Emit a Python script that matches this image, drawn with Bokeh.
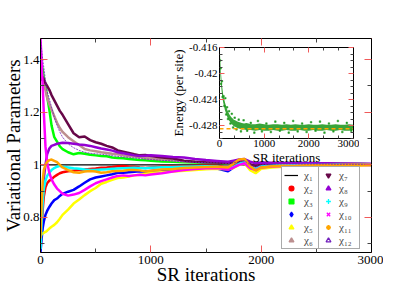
import math
from bokeh.plotting import figure
from bokeh.models import (Range1d, FixedTicker, LinearAxis, Legend, LegendItem,
                          GridBox, CustomJSTickFormatter)
from bokeh.embed import file_html
from bokeh.resources import INLINE

# ---------------- data ----------------
xs = [0, 10, 20, 30, 45, 60, 80, 100, 125, 150,
      175, 200, 250, 300, 350, 400, 450, 500, 550, 600,
      650, 700, 750, 800, 850, 900, 950, 1000, 1100, 1200,
      1300, 1400, 1500, 1600, 1700, 1750, 1800, 1850, 1900, 1950,
      2000, 2100, 2200, 2300, 2400, 2500, 2600, 2700, 2800, 2900, 3000]

x_ref = [0, 3000]
chi1 = [1.0, 1.0]
chi2 = [0.68, 0.76, 0.83, 0.88, 0.915, 0.93, 0.94, 0.945, 0.955, 0.962,
        0.968, 0.972, 0.976, 0.978, 0.98, 0.982, 0.984, 0.986, 0.989, 0.99,
        0.992, 0.995, 0.996, 0.994, 0.993, 0.99, 0.988, 0.99, 0.993, 0.995,
        0.994, 0.996, 0.997, 0.996, 0.988, 0.995, 1.005, 1.012, 0.99, 0.982,
        0.992, 0.996, 0.998, 0.997, 0.999, 0.998, 0.999, 1.0, 0.999, 1.0, 1.0]
chi3 = [1.396, 1.38, 1.36, 1.33, 1.30, 1.26, 1.21, 1.15, 1.105, 1.088,
        1.07, 1.06, 1.048, 1.04, 1.045, 1.042, 1.038, 1.036, 1.034, 1.033,
        1.028, 1.026, 1.025, 1.022, 1.02, 1.018, 1.017, 1.016, 1.013, 1.012,
        1.01, 1.009, 1.008, 1.009, 1.004, 1.01, 1.016, 1.02, 1.0, 0.992,
        1.002, 1.005, 1.006, 1.008, 1.006, 1.005, 1.004, 1.004, 1.003, 1.003, 1.002]
chi4 = [0.668, 0.72, 0.76, 0.785, 0.81, 0.825, 0.84, 0.853, 0.866, 0.872,
        0.882, 0.89, 0.898, 0.905, 0.918, 0.932, 0.945, 0.952, 0.956, 0.96,
        0.964, 0.97, 0.97, 0.972, 0.974, 0.976, 0.975, 0.977, 0.98, 0.98,
        0.983, 0.985, 0.987, 0.986, 0.976, 0.99, 1.005, 1.008, 0.99, 0.985,
        0.993, 0.995, 0.996, 0.996, 0.998, 0.997, 0.998, 0.999, 0.998, 0.999, 0.999]
chi5 = [0.732, 0.735, 0.74, 0.742, 0.745, 0.75, 0.758, 0.765, 0.772, 0.782,
        0.795, 0.81, 0.83, 0.853, 0.868, 0.885, 0.9, 0.912, 0.928, 0.935,
        0.943, 0.95, 0.952, 0.956, 0.96, 0.962, 0.965, 0.97, 0.972, 0.975,
        0.978, 0.98, 0.983, 0.985, 0.983, 0.988, 1.0, 1.005, 0.98, 0.968,
        0.985, 0.99, 0.993, 0.992, 0.995, 0.994, 0.996, 0.997, 0.996, 0.997, 0.998]
chi6 = [1.37, 1.35, 1.33, 1.31, 1.285, 1.255, 1.23, 1.21, 1.185, 1.16,
        1.14, 1.125, 1.105, 1.09, 1.075, 1.06, 1.055, 1.052, 1.048, 1.045,
        1.042, 1.04, 1.036, 1.034, 1.032, 1.03, 1.026, 1.024, 1.02, 1.017,
        1.014, 1.012, 1.01, 1.01, 1.006, 1.008, 1.014, 1.018, 1.0, 0.99,
        1.0, 1.004, 1.005, 1.006, 1.005, 1.004, 1.004, 1.003, 1.003, 1.002, 1.002]
chi7 = [1.32, 1.33, 1.335, 1.325, 1.31, 1.30, 1.285, 1.265, 1.245, 1.225,
        1.205, 1.19, 1.155, 1.12, 1.105, 1.108, 1.094, 1.086, 1.08, 1.072,
        1.066, 1.055, 1.05, 1.045, 1.04, 1.036, 1.037, 1.034, 1.028, 1.024,
        1.016, 1.012, 1.01, 1.009, 1.006, 1.008, 1.012, 1.016, 1.003, 0.995,
        1.002, 1.004, 1.005, 1.005, 1.004, 1.004, 1.003, 1.003, 1.002, 1.003, 1.002]
chi8 = [0.70, 0.80, 0.88, 0.95, 1.0, 1.04, 1.062, 1.072, 1.076, 1.08,
        1.082, 1.084, 1.083, 1.08, 1.077, 1.075, 1.072, 1.067, 1.062, 1.058,
        1.054, 1.048, 1.044, 1.04, 1.036, 1.034, 1.035, 1.036, 1.034, 1.03,
        1.028, 1.022, 1.018, 1.015, 1.012, 1.016, 1.02, 1.022, 1.012, 1.006,
        1.009, 1.008, 1.007, 1.008, 1.007, 1.006, 1.006, 1.005, 1.005, 1.004, 1.004]
chi9 = [0.68, 0.78, 0.86, 0.91, 0.94, 0.958, 0.97, 0.98, 0.988, 0.993,
        0.996, 0.993, 0.99, 0.987, 0.985, 0.982, 0.98, 0.98, 0.982, 0.983,
        0.985, 0.986, 0.987, 0.988, 0.989, 0.988, 0.987, 0.989, 0.991, 0.992,
        0.993, 0.994, 0.995, 0.994, 0.985, 0.992, 1.004, 1.01, 0.99, 0.984,
        0.994, 0.997, 0.998, 0.998, 0.999, 0.999, 0.999, 1.0, 0.999, 1.0, 1.0]
chi10 = [1.48, 1.39, 1.30, 1.20, 1.07, 1.01, 0.97, 0.945, 0.925, 0.91,
         0.90, 0.89, 0.883, 0.887, 0.893, 0.905, 0.918, 0.93, 0.938, 0.945,
         0.952, 0.958, 0.96, 0.958, 0.96, 0.962, 0.96, 0.963, 0.968, 0.975,
         0.98, 0.984, 0.987, 0.988, 0.982, 0.99, 1.0, 1.006, 0.988, 0.98,
         0.99, 0.994, 0.996, 0.996, 0.997, 0.997, 0.998, 0.998, 0.999, 0.999, 0.999]
chi11 = [0.72, 0.85, 0.94, 0.98, 1.0, 1.012, 1.018, 1.02, 1.015, 1.01,
         1.0, 0.99, 0.98, 0.972, 0.97, 0.975, 0.977, 0.975, 0.97, 0.972,
         0.976, 0.977, 0.978, 0.98, 0.98, 0.979, 0.975, 0.978, 0.982, 0.984,
         0.988, 0.99, 0.992, 0.993, 0.99, 1.005, 1.02, 1.022, 0.995, 0.978,
         0.99, 0.995, 0.997, 0.996, 0.998, 0.998, 0.999, 0.999, 1.0, 1.0, 1.0]
chi12 = [1.48, 1.44, 1.40, 1.37, 1.32, 1.28, 1.25, 1.22, 1.18, 1.15,
         1.125, 1.105, 1.08, 1.065, 1.055, 1.048, 1.044, 1.042, 1.04, 1.038,
         1.035, 1.032, 1.03, 1.028, 1.026, 1.024, 1.022, 1.02, 1.017, 1.015,
         1.012, 1.01, 1.008, 1.008, 1.005, 1.007, 1.012, 1.015, 1.0, 0.993,
         1.0, 1.003, 1.004, 1.004, 1.003, 1.003, 1.003, 1.002, 1.002, 1.002, 1.001]

series_names = ["χ₁", "χ₂", "χ₃", "χ₄", "χ₅", "χ₆", "χ₇", "χ₈", "χ₉", "χ₁₀", "χ₁₁", "χ₁₂"]

x_ticks = [0, 1000, 2000, 3000]
y_ticks = [0.8, 1.0, 1.2, 1.4]

# inset: energy per site
ins_x = [0, 10, 20, 30, 40, 50, 60, 80, 100, 120,
         140, 160, 180, 200, 230, 260, 290, 320, 350, 400,
         450, 500, 550, 600, 650, 700, 800, 900, 1000, 1100,
         1200, 1300, 1400, 1500, 1600, 1700, 1800, 1900, 2000, 2100,
         2200, 2300, 2400, 2500, 2600, 2700, 2800, 2900, 3000]
ins_hi = [-0.4160, -0.4168, -0.4182, -0.4195, -0.4205, -0.4213, -0.4220, -0.4231, -0.4238, -0.4244,
          -0.4249, -0.4253, -0.4257, -0.4260, -0.4264, -0.4267, -0.4269, -0.4271, -0.4272, -0.4274,
          -0.4275, -0.4276, -0.4277, -0.4276, -0.4277, -0.4278, -0.4278, -0.4277, -0.4278, -0.4279,
          -0.4278, -0.4278, -0.4279, -0.4278, -0.4279, -0.4278, -0.4279, -0.4279, -0.4278, -0.4279,
          -0.4279, -0.4278, -0.4279, -0.4279, -0.4278, -0.4279, -0.4279, -0.4278, -0.4279]
ins_lo = [-0.4176, -0.4190, -0.4204, -0.4214, -0.4222, -0.4229, -0.4235, -0.4244, -0.4250, -0.4256,
          -0.4260, -0.4264, -0.4268, -0.4271, -0.4274, -0.4277, -0.4279, -0.4281, -0.4282, -0.4284,
          -0.4285, -0.4286, -0.4286, -0.4287, -0.4287, -0.4287, -0.4288, -0.4287, -0.4288, -0.4288,
          -0.4287, -0.4288, -0.4288, -0.4287, -0.4288, -0.4288, -0.4287, -0.4288, -0.4288, -0.4287,
          -0.4288, -0.4288, -0.4287, -0.4288, -0.4288, -0.4287, -0.4288, -0.4288, -0.4287]
sp_x = [5, 15, 25, 35, 55, 70, 90, 110, 130, 150,
        170, 190, 215, 245, 275, 305, 340, 380, 430, 480,
        540, 620, 700, 780, 860, 950, 1050, 1150, 1250, 1350,
        1450, 1550, 1650, 1750, 1850, 1950, 2050, 2150, 2250, 2350,
        2450, 2550, 2650, 2750, 2850, 2950]
sp_y = [-0.4158, -0.4180, -0.4192, -0.4216, -0.4212, -0.4236, -0.4235, -0.4250, -0.4238, -0.4263,
        -0.4252, -0.4270, -0.4258, -0.4277, -0.4262, -0.4283, -0.4268, -0.4286, -0.4271, -0.4289,
        -0.4272, -0.4288, -0.4276, -0.4291, -0.4273, -0.4289, -0.4277, -0.4290, -0.4274, -0.4288,
        -0.4276, -0.4291, -0.4273, -0.4289, -0.4277, -0.4290, -0.4275, -0.4288, -0.4274, -0.4291,
        -0.4277, -0.4289, -0.4273, -0.4290, -0.4276, -0.4288]
e_ref_x = [0, 3000]
e_ref = [-0.4285, -0.4285]
ins_x_ticks = [0, 1000, 2000, 3000]
ins_y_ticks = [-0.428, -0.424, -0.42, -0.416]

# ---------------- styles ----------------
SERIF = "Liberation Serif"
colors = ["#000000", "#ff0000", "#00ff00", "#0000ff", "#ffff00", "#bc8f8f",
          "#670748", "#9400d3", "#00ffff", "#ff00ff", "#ffa500", "#7221bc"]
MAJOR_TICK = "#f05a5a"
MINOR_TICK = "#444444"

def make_fig(**kw):
    f = figure(output_backend="svg", toolbar_location=None, **kw)
    if f.title is not None:
        f.title.visible = False
    try:
        f.frame_align = False
    except Exception:
        pass
    return f

p = make_fig(width=383, height=292, x_range=Range1d(0, 3000), y_range=Range1d(0.667, 1.48),
             min_border_left=20, min_border_right=12, min_border_top=38, min_border_bottom=40)
p.grid.visible = False
p.outline_line_color = "black"
p.border_fill_color = "white"

fmt = CustomJSTickFormatter(code="return String(Math.round(tick*1000)/1000);")
blank = CustomJSTickFormatter(code="return '';")

def style_axis(ax, major, minor, fs="13px", tin=7, tmin=4, labels=True, standoff=1):
    ax.ticker = FixedTicker(ticks=major, minor_ticks=minor)
    ax.major_tick_in = tin
    ax.major_tick_out = 0
    ax.minor_tick_in = tmin
    ax.minor_tick_out = 0
    ax.major_tick_line_color = MAJOR_TICK
    ax.minor_tick_line_color = MINOR_TICK
    ax.axis_line_color = "black"
    ax.major_label_text_font = SERIF
    ax.major_label_text_font_size = fs
    ax.major_label_text_color = "black"
    if labels:
        ax.formatter = fmt
        ax.major_label_standoff = standoff
    else:
        ax.formatter = blank
        ax.major_label_standoff = 0

def style_label(ax, text, fs, standoff):
    ax.axis_label = text
    ax.axis_label_text_font = SERIF
    ax.axis_label_text_font_style = "normal"
    ax.axis_label_text_font_size = fs
    ax.axis_label_text_color = "black"
    ax.axis_label_standoff = standoff

x_minor = [500, 1500, 2500]
y_minor = [0.7, 0.9, 1.1, 1.3]
style_axis(p.xaxis[0], x_ticks, x_minor, standoff=3)
style_axis(p.yaxis[0], y_ticks, y_minor, standoff=1)
style_label(p.xaxis[0], "SR iterations", "19px", -3)
style_label(p.yaxis[0], "Variational Parameters", "19px", -4)

top_ax = LinearAxis()
style_axis(top_ax, x_ticks, x_minor, labels=False)
p.add_layout(top_ax, "above")
right_ax = LinearAxis()
style_axis(right_ax, y_ticks, y_minor, labels=False)
p.add_layout(right_ax, "right")

all_series = [chi2, chi3, chi4, chi5, chi6, chi7, chi8, chi9, chi10, chi11, chi12]
r1 = p.line(x_ref, chi1, line_color=colors[0], line_width=1.2)
for i, ys in enumerate(all_series):
    c = colors[i + 1]
    n = min(len(xs), len(ys))
    if i + 1 == 11:
        p.line(xs[:n], ys[:n], line_color=c, line_width=1.0, line_dash="2 1", line_alpha=0.8)
    else:
        p.line(xs[:n], ys[:n], line_color=c, line_width=2.5)

# legend marker renderers: zero-size markers on the series (invisible in plot)
marker_specs = [
    ("circle", 0.0, True), ("square", 0.0, True), ("diamond", 0.0, True),
    ("triangle", 0.0, True), ("triangle", math.pi / 2, True), ("inverted_triangle", 0.0, True),
    ("triangle", -math.pi / 2, True), ("cross", 0.0, False), ("x", 0.0, False),
    ("asterisk", 0.0, False), ("triangle", 0.0, False),
]
leg_rs = [r1]
for i, (m, ang, filled) in enumerate(marker_specs):
    c = colors[i + 1]
    ys = all_series[i]
    n = min(len(xs), len(ys))
    r = p.scatter(x=xs[:n], y=ys[:n], marker=m, angle=ang, size=0, line_color=c,
                  fill_color=c if filled else None, line_width=1.3)
    leg_rs.append(r)

def make_legend(items, loc, label_width, standoff):
    lg = Legend(items=items, location=loc, orientation="vertical",
                label_text_font=SERIF, label_text_font_size="11px",
                glyph_width=14, glyph_height=12, label_height=12, label_width=label_width,
                label_standoff=standoff, spacing=1, padding=2, margin=0,
                border_line_color="#555555", border_line_width=1,
                background_fill_color="white", background_fill_alpha=1.0)
    p.add_layout(lg)

items1 = [LegendItem(label=series_names[i], renderers=[leg_rs[i]]) for i in range(6)]
items2 = [LegendItem(label=series_names[i], renderers=[leg_rs[i]]) for i in range(6, 12)]
make_legend(items1, (241, 3), 12, 6)
make_legend(items2, (278, 3), 18, 4)

# ---------------- inset ----------------
ins = make_fig(width=191, height=135, x_range=Range1d(0, 3000), y_range=Range1d(-0.430, -0.416),
               min_border_left=46, min_border_right=6, min_border_top=14, min_border_bottom=30)
ins.grid.visible = False
ins.outline_line_color = "black"
ins.border_fill_alpha = 0
ins.background_fill_color = "white"
ins_x_minor = [333.3, 666.7, 1333.3, 1666.7, 2333.3, 2666.7]
ins_y_minor = [-0.430, -0.429, -0.427, -0.426, -0.425, -0.423, -0.422, -0.421, -0.419, -0.418, -0.417]
style_axis(ins.xaxis[0], ins_x_ticks, ins_x_minor, fs="11px", tin=5, tmin=3, standoff=1)
style_axis(ins.yaxis[0], ins_y_ticks, ins_y_minor, fs="11px", tin=5, tmin=3, standoff=2)
style_label(ins.xaxis[0], "SR iterations", "13px", 0)
style_label(ins.yaxis[0], "Energy (per site)", "13px", 0)
it = LinearAxis()
style_axis(it, ins_x_ticks, ins_x_minor, fs="11px", tin=5, tmin=3, labels=False)
ins.add_layout(it, "above")
ir = LinearAxis()
style_axis(ir, ins_y_ticks, ins_y_minor, fs="11px", tin=5, tmin=3, labels=False)
ins.add_layout(ir, "right")

n = min(len(ins_x), len(ins_hi), len(ins_lo))
ins.varea(x=ins_x[:n], y1=ins_lo[:n], y2=ins_hi[:n], fill_color="#239b23", fill_alpha=0.9)
n2 = min(len(sp_x), len(sp_y))
ins.scatter(sp_x[:n2], sp_y[:n2], marker="square", size=1.6, line_color="#239b23",
            fill_color="#239b23", line_width=0.5)
ins.line(e_ref_x, e_ref, line_color="#ffa500", line_width=1.5, line_dash="4 3")

ins.margin = (33, 0, 0, 168)
ins.align = "start"

layout = GridBox(children=[(p, 0, 0), (ins, 0, 0)])

with open("out.html", "w") as f:
    f.write(file_html(layout, INLINE))
